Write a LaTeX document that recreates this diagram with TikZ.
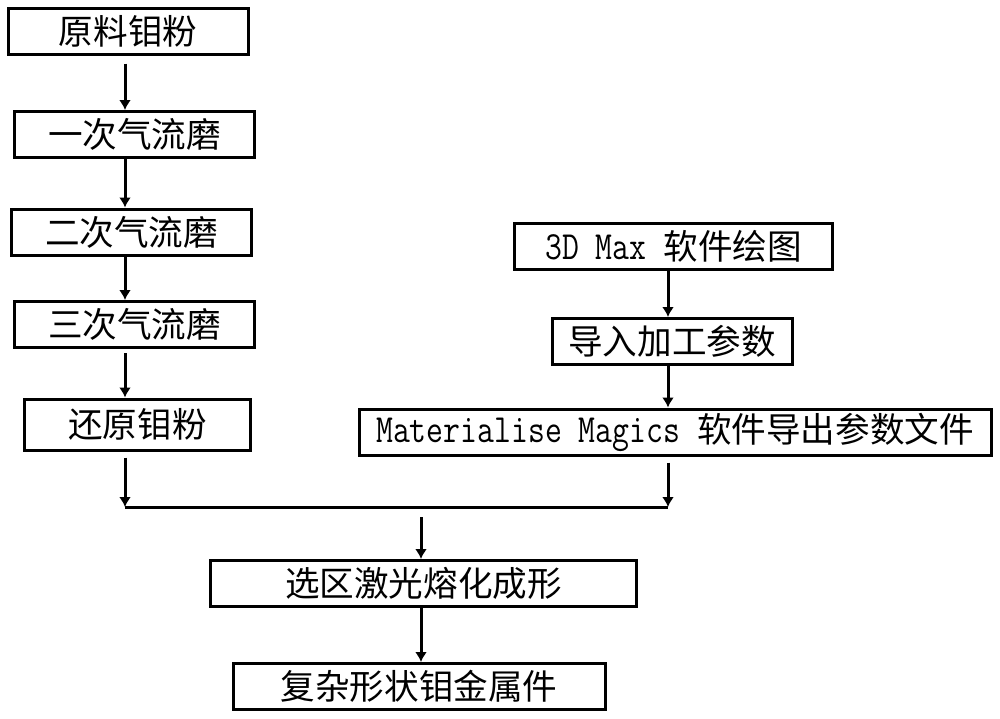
\documentclass[tikz,border=0pt]{standalone}
\usepackage{fontspec}
\setmainfont{Noto Sans CJK SC}
\usepackage{tikz}
\usetikzlibrary{arrows.meta,positioning}
\newcommand{\halfwidth}[1]{\scalebox{0.82}[1]{\ttfamily\fontsize{20}{22}\selectfont #1}}
\tikzset{
  procbox/.style={draw=black, line width=1.5pt, inner sep=0pt,
    font=\fontsize{17.3}{20}\selectfont},
}

\begin{document}
\begin{tikzpicture}[x=0.5pt, y=-0.5pt, line width=1.5pt, >={Latex[length=5pt,width=6pt]}]
    \useasboundingbox (0,0) rectangle (1000,718);
    \def\h{23}
    % Left column
    \node[procbox, minimum width=120pt, minimum height=\h pt] (raw) at (128,31) {原料钼粉};
    \node[procbox, minimum width=120pt, minimum height=\h pt] (mill1) at (134.5,134.5) {一次气流磨};
    \node[procbox, minimum width=120pt, minimum height=\h pt] (mill2) at (131.5,232) {二次气流磨};
    \node[procbox, minimum width=120pt, minimum height=\h pt] (mill3) at (134.5,324.5) {三次气流磨};
    \node[procbox, minimum width=113pt, minimum height=25.5pt] (reduce) at (137.5,424.5) {还原钼粉};
    % Right column
    \node[procbox, minimum width=159pt, minimum height=\h pt] (max) at (673.5,246.5) {\halfwidth{3D Max }软件绘图};
    \node[procbox, minimum width=120pt, minimum height=\h pt] (param) at (672,341.5) {导入加工参数};
    \node[procbox, minimum width=316pt, minimum height=\h pt] (magics) at (675,432) {\halfwidth{Materialise Magics }软件导出参数文件};
    % Bottom
    \node[procbox, minimum width=213pt, minimum height=\h pt] (slm) at (423.5,583.5) {选区激光熔化成形};
    \node[procbox, minimum width=186pt, minimum height=\h pt] (part) at (419,686.5) {复杂形状钼金属件};

    % Arrows
    \coordinate (lx) at (125,0);
    \coordinate (rx) at (668,0);
    \coordinate (jl) at (125,507);
    \coordinate (jr) at (668,507);
    \coordinate (jm) at (421,507);
    \draw[->, shorten <=4pt] (raw.south -| lx) -- (mill1.north -| lx);
    \draw[->] (mill1.south -| lx) -- (mill2.north -| lx);
    \draw[->] (mill2.south -| lx) -- (mill3.north -| lx);
    \draw[->, shorten <=2pt] (mill3.south -| lx) -- (reduce.north -| lx);
    \draw[->] (max.south -| rx) -- (param.north -| rx);
    \draw[->] (param.south -| rx) -- (magics.north -| rx);
    % Merge
    \draw[->, shorten <=3pt] (reduce.south -| lx) -- (jl);
    \draw[->, shorten <=3pt] (magics.south -| rx) -- (jr);
    \draw (jl) -- (jr);
    \draw[->, shorten <=5pt] (jm) -- (slm.north -| jm);
    \draw[->] (slm.south -| jm) -- (part.north -| jm);
\end{tikzpicture}
\end{document}
